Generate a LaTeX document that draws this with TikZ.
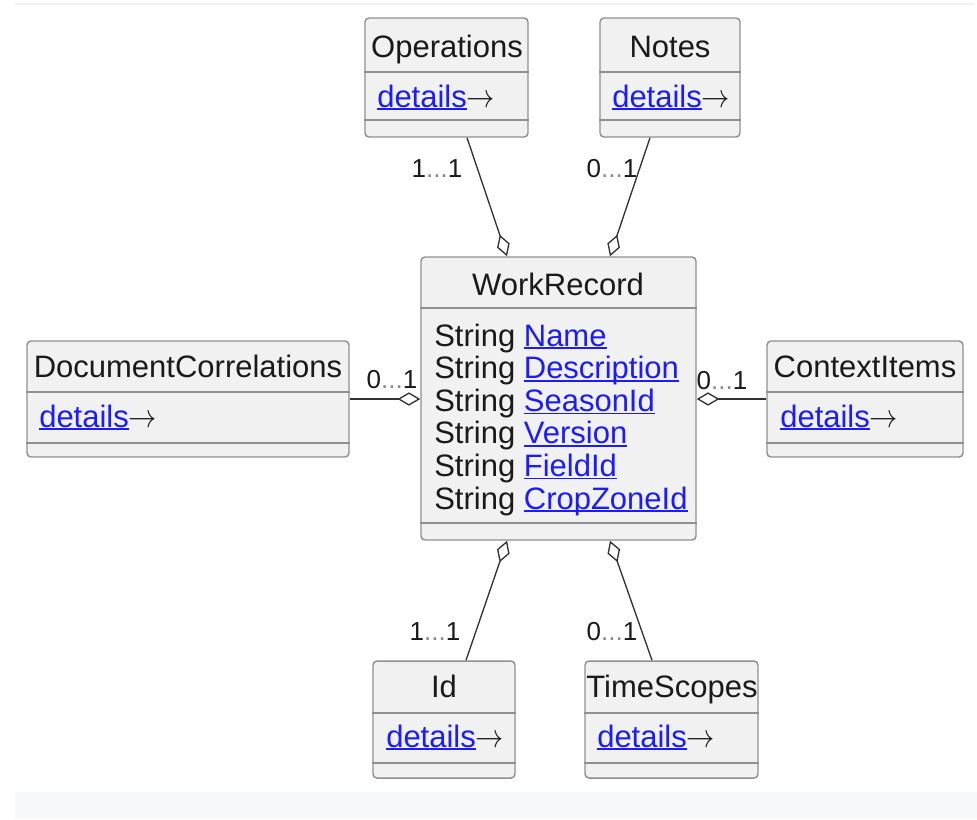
\documentclass[tikz,border=0pt]{standalone}
\usepackage{fontspec}
\setmainfont{Liberation Sans}
\usetikzlibrary{arrows.meta,fit,calc}
\definecolor{boxfill}{HTML}{F1F1F1}
\definecolor{boxline}{HTML}{909090}
\definecolor{linkblue}{HTML}{1B1BFF}
\definecolor{edgecol}{HTML}{333333}
\definecolor{band}{HTML}{F7F8FA}
\definecolor{topline}{HTML}{F4F4F4}
\definecolor{dotgray}{HTML}{8A8A8A}
\definecolor{txtcol}{HTML}{1A1A1A}
\newcommand\lnk[1]{{\color{linkblue}\setbox0\hbox{#1}\rlap{\rule[-2.2pt]{\wd0}{1.1pt}}\box0}}
\newcommand\mult[2]{#1{\color{dotgray}...}#2}
\newcommand\detlink{\lnk{details}\scalebox{0.85}[1]{$\rightarrow$}}
\begin{document}
\begin{tikzpicture}[x=0.75pt,y=-0.75pt,
  box/.style={draw=boxline, fill=boxfill, line width=1.1pt, rounded corners=3pt, inner sep=0pt},
  sepline/.style={draw=boxline, line width=1.1pt},
  txt/.style={anchor=base, inner sep=0pt, font=\fontsize{23.25}{28}\selectfont, text=txtcol},
  lft/.style={txt, anchor=base west},
  mul/.style={txt, font=\fontsize{19.5}{24}\selectfont},
  assoc/.style={draw=edgecol, line width=1pt, -{Diamond[open, length=17pt, width=10pt, line width=1pt]}}]
\useasboundingbox (0,0) rectangle (977,819);
\fill[topline] (15,2.5) rectangle (975,5);
\fill[band] (15,792) rectangle (977,819);

% boxes
\node[box, fit={(365,18) (528,137)}] (ops) {};
\node[box, fit={(600,18) (740,137)}] (notes) {};
\node[box, fit={(421,257) (696,540)}] (wr) {};
\node[box, fit={(27,341) (349,457)}] (dc) {};
\node[box, fit={(767,341) (963,457)}] (ci) {};
\node[box, fit={(373,661) (515,778)}] (id) {};
\node[box, fit={(585,661) (758,778)}] (ts) {};

% separators
\draw[sepline] (ops.west |- 0,72) -- (ops.east |- 0,72);
\draw[sepline] (ops.west |- 0,120) -- (ops.east |- 0,120);
\draw[sepline] (notes.west |- 0,72) -- (notes.east |- 0,72);
\draw[sepline] (notes.west |- 0,120) -- (notes.east |- 0,120);
\draw[sepline] (wr.west |- 0,308) -- (wr.east |- 0,308);
\draw[sepline] (wr.west |- 0,523) -- (wr.east |- 0,523);
\draw[sepline] (dc.west |- 0,392) -- (dc.east |- 0,392);
\draw[sepline] (dc.west |- 0,443) -- (dc.east |- 0,443);
\draw[sepline] (ci.west |- 0,392) -- (ci.east |- 0,392);
\draw[sepline] (ci.west |- 0,443) -- (ci.east |- 0,443);
\draw[sepline] (id.west |- 0,713) -- (id.east |- 0,713);
\draw[sepline] (id.west |- 0,763) -- (id.east |- 0,763);
\draw[sepline] (ts.west |- 0,713) -- (ts.east |- 0,713);
\draw[sepline] (ts.west |- 0,763) -- (ts.east |- 0,763);

% titles
\node[txt] (opsT) at (447,57) {Operations};
\node[txt] (notesT) at (670,57) {Notes};
\node[txt] (wrT) at (558,295) {WorkRecord};
\node[txt] (dcT) at (188,377) {DocumentCorrelations};
\node[txt] (ciT) at (865,377) {ContextItems};
\node[txt] (idT) at (444,697) {Id};
\node[txt] (tsT) at (672,697) {TimeScopes};

% details
\node[lft] (opsD) at (377,107) {\detlink};
\node[lft] (notesD) at (612,107) {\detlink};
\node[lft] (dcD) at (39,427) {\detlink};
\node[lft] (ciD) at (780,427) {\detlink};
\node[lft] (idD) at (386,747) {\detlink};
\node[lft] (tsD) at (597,747) {\detlink};

% attributes
\node[lft] (a1) at (434,346) {String \lnk{Name}};
\node[lft] (a2) at (434,378.6) {String \lnk{Description}};
\node[lft] (a3) at (434,411.2) {String \lnk{SeasonId}};
\node[lft] (a4) at (434,443.8) {String \lnk{Version}};
\node[lft] (a5) at (434,476.4) {String \lnk{FieldId}};
\node[lft] (a6) at (434,509) {String \lnk{CropZoneId}};

% connectors
\draw[assoc] (ops.south -| 467,0) -- (wr.north -| 507,0);
\draw[assoc] (notes.south -| 650,0) -- (wr.north -| 610,0);
\draw[assoc] (dc.east |- 0,399) -- (wr.west |- 0,399);
\draw[assoc] (ci.west |- 0,399) -- (wr.east |- 0,399);
\draw[assoc] (id.north -| 466,0) -- (wr.south -| 507,0);
\draw[assoc] (ts.north -| 652,0) -- (wr.south -| 610,0);

% multiplicities
\node[mul] (m1) at (437,177) {\mult{1}{1}};
\node[mul] (m2) at (612,177) {\mult{0}{1}};
\node[mul] (m3) at (392,388) {\mult{0}{1}};
\node[mul] (m4) at (722,389) {\mult{0}{1}};
\node[mul] (m5) at (435,640) {\mult{1}{1}};
\node[mul] (m6) at (612,640) {\mult{0}{1}};
\end{tikzpicture}
\end{document}
